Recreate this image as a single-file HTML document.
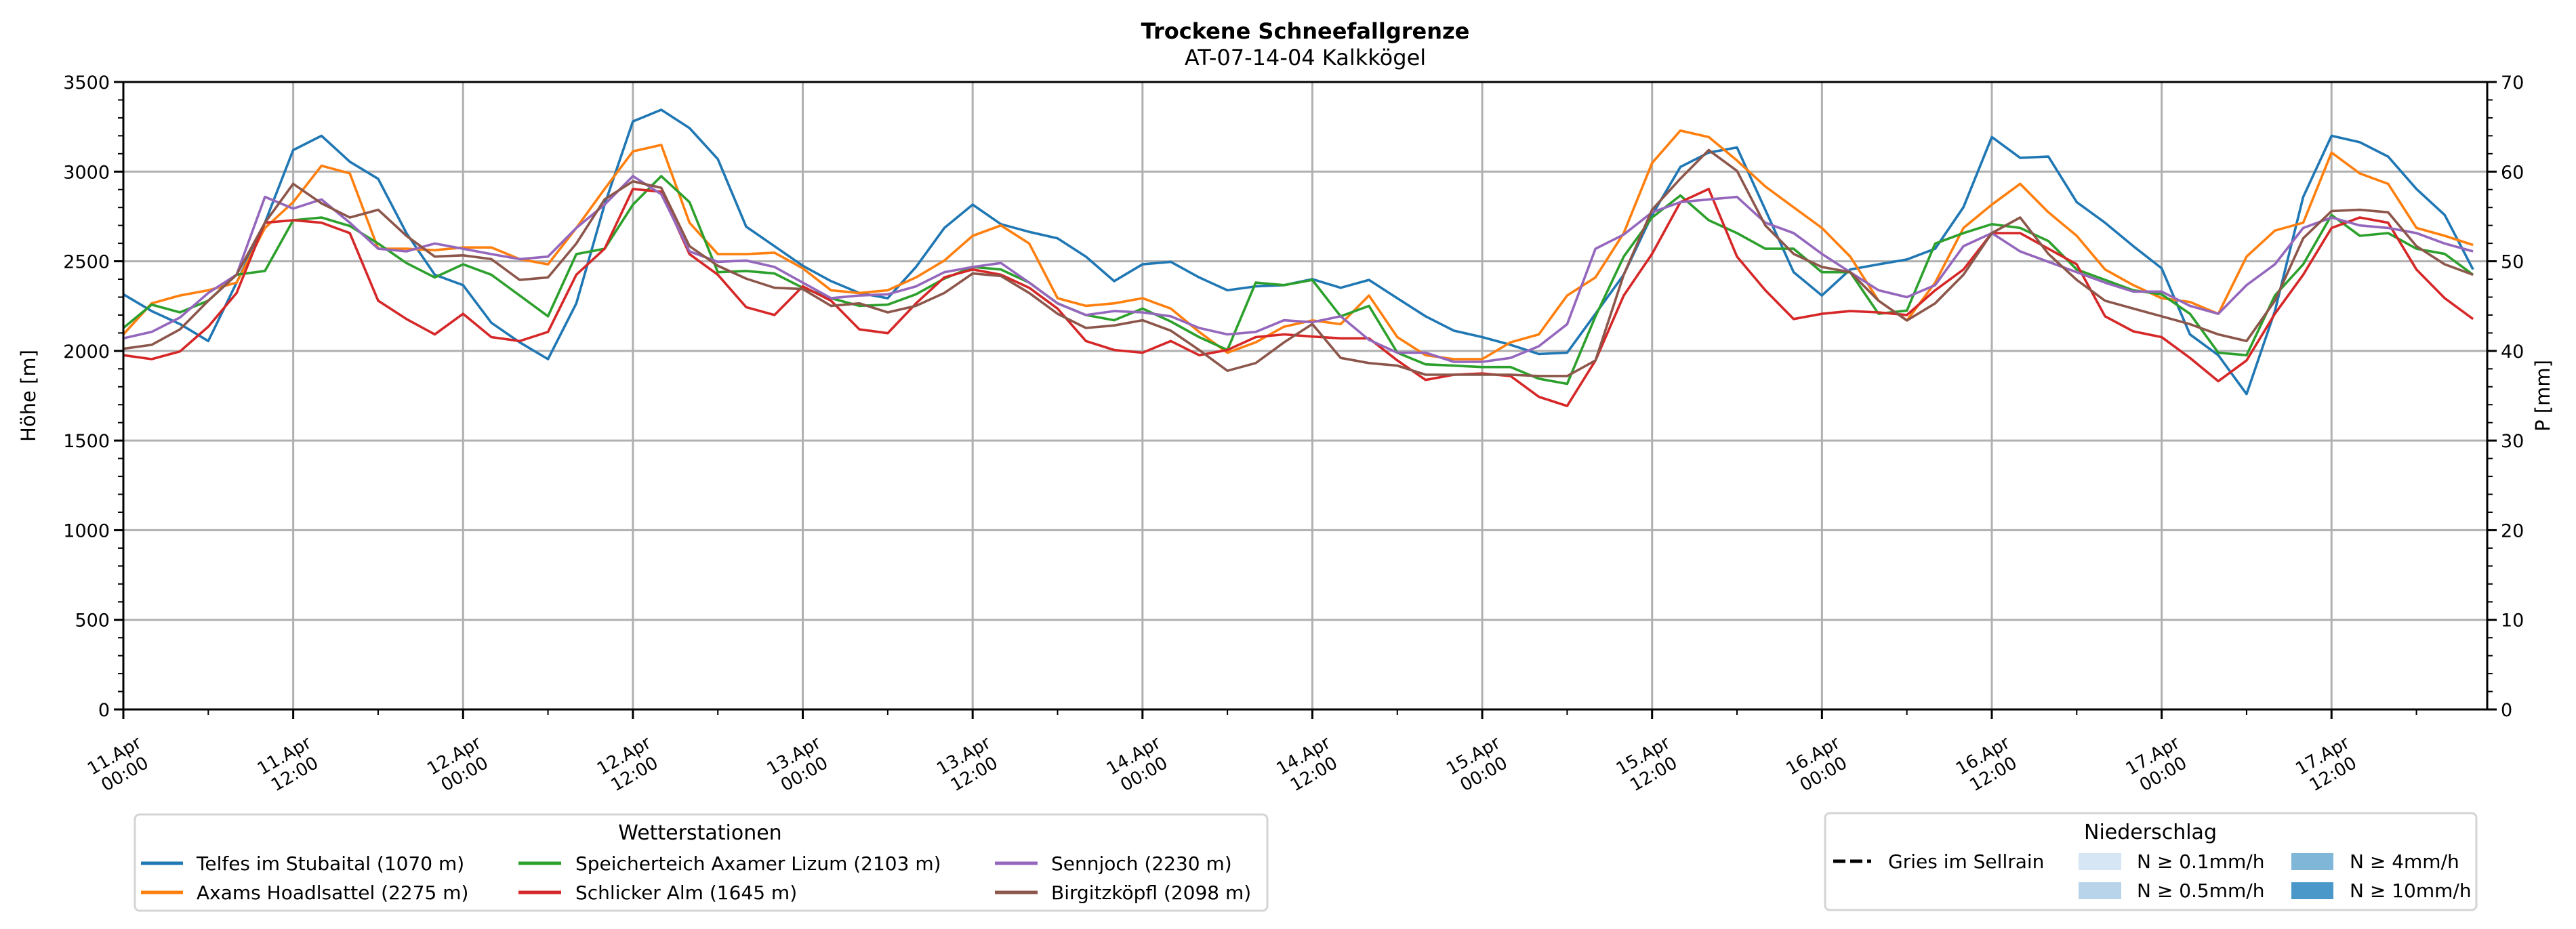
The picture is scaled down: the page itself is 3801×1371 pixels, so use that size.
<!DOCTYPE html>
<html><head><meta charset="utf-8"><style>
html,body{margin:0;padding:0;background:#fff;}
svg{display:block;font-family:"DejaVu Sans","Liberation Sans",sans-serif;}
</style></head><body>
<svg id="chart" width="3801" height="1371" viewBox="0 0 3801 1371" xmlns="http://www.w3.org/2000/svg">
<rect x="0" y="0" width="3801" height="1371" fill="#fff"/>
<text x="1926" y="57" text-anchor="middle" font-size="32" font-weight="bold">Trockene Schneefallgrenze</text>
<text x="1926" y="96" text-anchor="middle" font-size="32">AT-07-14-04 Kalkkögel</text>
<g id="grid"></g>
<g id="series"></g>
<g id="axes"></g>
<text transform="translate(52,584) rotate(-90)" text-anchor="middle" font-size="29">Höhe [m]</text>
<text transform="translate(3762,584) rotate(-90)" text-anchor="middle" font-size="29">P [mm]</text>

<g>
<rect x="199" y="1202" width="1671" height="142" rx="7" fill="#fff" stroke="#d4d4d4" stroke-width="3"/>
<text x="1033" y="1239" text-anchor="middle" font-size="30">Wetterstationen</text>
<g font-size="28">
<g><line x1="208" y1="1274" x2="270" y2="1274" stroke="#1f77b4" stroke-width="5"/><text x="290" y="1284">Telfes im Stubaital (1070 m)</text></g>
<g><line x1="208" y1="1317" x2="270" y2="1317" stroke="#ff7f0e" stroke-width="5"/><text x="290" y="1327">Axams Hoadlsattel (2275 m)</text></g>
<g><line x1="765" y1="1274" x2="828" y2="1274" stroke="#2ca02c" stroke-width="5"/><text x="849" y="1284">Speicherteich Axamer Lizum (2103 m)</text></g>
<g><line x1="765" y1="1317" x2="828" y2="1317" stroke="#d62728" stroke-width="5"/><text x="849" y="1327">Schlicker Alm (1645 m)</text></g>
<g><line x1="1468" y1="1274" x2="1531" y2="1274" stroke="#9467bd" stroke-width="5"/><text x="1551" y="1284">Sennjoch (2230 m)</text></g>
<g><line x1="1468" y1="1317" x2="1531" y2="1317" stroke="#8c564b" stroke-width="5"/><text x="1551" y="1327">Birgitzköpfl (2098 m)</text></g>
</g></g>

<g>
<rect x="2693" y="1200" width="961" height="143" rx="7" fill="#fff" stroke="#d4d4d4" stroke-width="3"/>
<text x="3173" y="1238" text-anchor="middle" font-size="30">Niederschlag</text>
<g font-size="28">
<g><line x1="2705" y1="1271" x2="2761" y2="1271" stroke="#000" stroke-width="5" stroke-dasharray="18,7"/><text x="2786" y="1281">Gries im Sellrain</text></g>
<g><rect x="3067" y="1259" width="63" height="25" fill="#d6e6f4"/><text x="3153" y="1281">N ≥ 0.1mm/h</text></g>
<g><rect x="3067" y="1302" width="63" height="25" fill="#b8d4ea"/><text x="3153" y="1324">N ≥ 0.5mm/h</text></g>
<g><rect x="3381" y="1259" width="62" height="25" fill="#80b6d8"/><text x="3467" y="1281">N ≥ 4mm/h</text></g>
<g><rect x="3381" y="1302" width="62" height="25" fill="#4a98c9"/><text x="3467" y="1324">N ≥ 10mm/h</text></g>
</g></g>
</svg>
<script>
const hours = [];
for (let h = 0; h <= 166; h += 2) hours.push(h);
const telfes = [2316,2222,2150,2055,2381,2715,3120,3200,3055,2960,2657,2425,2367,2157,2048,1954,2265,2816,3280,3345,3243,3070,
2693,2584,2475,2389,2323,2294,2468,2686,2816,2707,2664,2628,2526,2389,2483,2497,2410,2338,2360,2367,2400,
2352,2396,2294,2193,2113,2077,2034,1983,1990,2207,2425,2758,3026,3106,3135,2787,2439,2309,2454,2483,2510,
2570,2802,3193,3077,3084,2830,2715,2584,2461,2092,1976,1759,2222,2859,3200,3164,3084,2903,2758,2454];
const axams = [2092,2265,2309,2338,2381,2686,2830,3033,2990,2570,2570,2562,2577,2577,2512,2483,2686,2903,3113,3149,2715,2540,
2540,2548,2461,2338,2323,2338,2410,2504,2642,2700,2599,2294,2251,2265,2294,2236,2106,1990,2048,2135,2170,
2149,2309,2077,1976,1954,1954,2048,2092,2309,2410,2657,3048,3229,3193,3062,2917,2801,2686,2526,2280,2170,
2381,2686,2816,2932,2773,2642,2454,2367,2294,2273,2207,2526,2671,2715,3106,2990,2932,2686,2642,2591];
const speicher = [2128,2258,2215,2280,2425,2446,2729,2744,2697,2599,2490,2410,2483,2425,2309,2193,2540,2570,2816,2975,2830,2439,
2446,2432,2352,2294,2251,2258,2316,2403,2468,2454,2381,2265,2200,2171,2236,2164,2077,2005,2381,2367,2396,
2193,2251,1990,1925,1918,1910,1910,1845,1816,2193,2526,2744,2867,2729,2657,2570,2570,2439,2439,2207,2225,
2599,2657,2707,2686,2613,2454,2396,2338,2316,2207,1990,1976,2309,2483,2758,2642,2657,2570,2541,2425];
const schlicker = [1976,1954,1997,2135,2323,2715,2729,2715,2657,2280,2178,2092,2207,2077,2055,2106,2425,2570,2903,2888,2540,2425,
2244,2200,2360,2280,2120,2099,2265,2410,2454,2425,2352,2236,2055,2005,1990,2055,1976,2005,2077,2092,2080,
2070,2070,1947,1838,1867,1874,1860,1744,1693,1947,2309,2541,2830,2903,2526,2338,2178,2207,2222,2215,2200,
2338,2454,2657,2657,2570,2483,2193,2109,2077,1961,1831,1947,2207,2425,2686,2744,2715,2454,2294,2178];
const sennjoch = [2070,2106,2186,2323,2425,2859,2794,2845,2715,2570,2555,2599,2570,2540,2512,2526,2686,2816,2975,2874,2555,2497,
2504,2468,2381,2294,2309,2316,2360,2439,2468,2490,2381,2265,2200,2222,2215,2193,2128,2092,2106,2171,2160,
2193,2062,1990,1990,1939,1939,1961,2026,2149,2570,2649,2773,2830,2845,2859,2715,2657,2541,2439,2338,2300,
2367,2584,2657,2555,2497,2439,2381,2331,2331,2251,2207,2367,2483,2686,2744,2700,2686,2657,2599,2555];
const birgitz = [2012,2034,2120,2280,2425,2715,2932,2823,2744,2787,2642,2526,2533,2512,2396,2410,2599,2845,2946,2910,2584,2475,
2403,2352,2345,2251,2265,2215,2251,2323,2432,2418,2323,2207,2128,2142,2171,2113,2005,1889,1932,2048,2150,
1961,1932,1918,1867,1867,1867,1867,1860,1860,1947,2425,2787,2961,3120,3004,2700,2541,2468,2439,2280,2170,
2265,2425,2657,2744,2541,2396,2280,2236,2193,2149,2092,2055,2280,2628,2780,2787,2773,2584,2483,2425];
const yTicks = [0,500,1000,1500,2000,2500,3000,3500];
const y2Ticks = [0,10,20,30,40,50,60,70];
const xTickLabels = ["11.Apr|00:00","11.Apr|12:00","12.Apr|00:00","12.Apr|12:00","13.Apr|00:00","13.Apr|12:00","14.Apr|00:00","14.Apr|12:00","15.Apr|00:00","15.Apr|12:00","16.Apr|00:00","16.Apr|12:00","17.Apr|00:00","17.Apr|12:00"];

const L=182, R=3670, T=121, B=1047, XMAX=167, YMAX=3500, Y2MAX=70;
const xs = h => L + (R-L)*h/XMAX;
const ys = v => B - (B-T)*v/YMAX;
const y2s = v => B - (B-T)*v/Y2MAX;
const NS="http://www.w3.org/2000/svg";
function mk(tag, attrs, parent){const e=document.createElementNS(NS,tag);for(const k in attrs)e.setAttribute(k,attrs[k]);parent.appendChild(e);return e;}
const grid=document.getElementById('grid'), axes=document.getElementById('axes'), ser=document.getElementById('series');

xTickLabels.forEach((lab,i)=>{
  const x=xs(i*12);
  const g=mk('line',{x1:x,y1:T,x2:x,y2:B,stroke:'#b0b0b0','stroke-width':3},grid);
  
  
  const t=mk('line',{x1:x,y1:B,x2:x,y2:B+14,stroke:'#000','stroke-width':3},axes);
  
  
  const parts=lab.split('|');
  const tx=mk('text',{transform:`translate(${x-6},${1128}) rotate(-30)`,'text-anchor':'middle','font-size':26},axes);
  
  
  mk('tspan',{x:0,y:-6},tx).textContent=parts[0];
  mk('tspan',{x:0,y:25},tx).textContent=parts[1];
});
for(let h=6;h<XMAX;h+=12){
  const m=mk('line',{x1:xs(h),y1:B,x2:xs(h),y2:B+8,stroke:'#000','stroke-width':2},axes);
  
  
}
yTicks.forEach(v=>{
  const y=ys(v);
  const g=mk('line',{x1:L,y1:y,x2:R,y2:y,stroke:'#b0b0b0','stroke-width':3},grid);
  
  
  const t=mk('line',{x1:L-14,y1:y,x2:L,y2:y,stroke:'#000','stroke-width':3},axes);
  
  
  const tx=mk('text',{x:L-20,y:y+10,'text-anchor':'end','font-size':27},axes);
  
  
  tx.textContent=v;
});
for(let v=100;v<YMAX;v+=100){ if(v%500===0) continue;
  const m=mk('line',{x1:L-8,y1:ys(v),x2:L,y2:ys(v),stroke:'#000','stroke-width':2},axes);
  
  
}
y2Ticks.forEach(v=>{
  const y=y2s(v);
  const t=mk('line',{x1:R,y1:y,x2:R+14,y2:y,stroke:'#000','stroke-width':3},axes);
  
  
  const tx=mk('text',{x:R+20,y:y+10,'text-anchor':'start','font-size':27},axes);
  
  
  tx.textContent=v;
});
for(let v=2;v<Y2MAX;v+=2){ if(v%10===0) continue;
  const m=mk('line',{x1:R,y1:y2s(v),x2:R+8,y2:y2s(v),stroke:'#000','stroke-width':2},axes);
  
  
}
const frame=mk('rect',{x:L,y:T,width:R-L,height:B-T,fill:'none',stroke:'#000','stroke-width':3},axes);



const seriesList=[[telfes,'#1f77b4','line-telfes'],[axams,'#ff7f0e','line-axams'],[speicher,'#2ca02c','line-speicherteich'],[schlicker,'#d62728','line-schlicker-alm'],[sennjoch,'#9467bd','line-sennjoch'],[birgitz,'#8c564b','line-birgitzkoepfl']];
seriesList.forEach(([vals,col,name])=>{
  const pts=vals.map((v,i)=>xs(hours[i]).toFixed(1)+','+ys(v).toFixed(1)).join(' ');
  const p=mk('polyline',{points:pts,fill:'none',stroke:col,'stroke-width':3.6,'stroke-linejoin':'round'},ser);
  
  
});
</script>
</body></html>
